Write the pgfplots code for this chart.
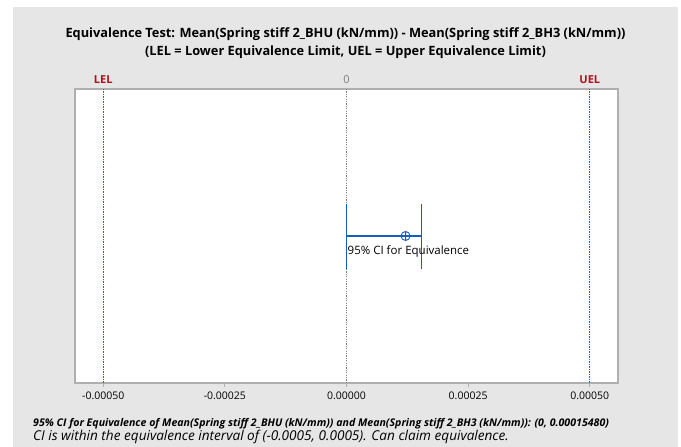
\documentclass[border=0pt]{standalone}
\usepackage{pgfplots}
\pgfplotsset{compat=1.18}
\usepackage{fontspec}
\setmainfont{Open Sans}
\definecolor{panelgray}{RGB}{230,230,230}
\definecolor{framegray}{RGB}{175,175,175}
\definecolor{lelred}{RGB}{170,20,30}
\definecolor{dotred}{RGB}{240,30,30}
\definecolor{ciblue}{RGB}{20,95,190}
\begin{document}
\begin{tikzpicture}[x=1pt,y=1pt]
\fill[white] (0,0) rectangle (681,447);
\fill[panelgray] (13,0) rectangle (678,440);
\node[font=\fontsize{12.8}{15}\selectfont\bfseries] at (345.5,413) {Equivalence Test: Mean(Spring stiff 2\_BHU (kN/mm)) - Mean(Spring stiff 2\_BH3 (kN/mm))};
\node[font=\fontsize{12.8}{15}\selectfont\bfseries] at (345.5,395) {(LEL = Lower Equivalence Limit, UEL = Upper Equivalence Limit)};
\node[anchor=west, inner sep=0pt, font=\fontsize{10.6}{12}\selectfont\bfseries\itshape] at (33,23) {95\% CI for Equivalence of Mean(Spring stiff 2\_BHU (kN/mm)) and Mean(Spring stiff 2\_BH3 (kN/mm)): (0, 0.00015480)};
\node[anchor=west, inner sep=0pt, font=\fontsize{13.6}{15}\selectfont\itshape] at (33,10.5) {CI is within the equivalence interval of (-0.0005, 0.0005). Can claim equivalence.};
\begin{axis}[
  at={(75pt,64pt)}, anchor=south west,
  scale only axis, width=543pt, height=294pt,
  xmin=-0.000558, xmax=0.000558, ymin=0, ymax=1,
  axis background/.style={fill=white},
  ytick=\empty,
  xtick={-0.0005,-0.00025,0,0.00025,0.0005},
  xticklabels={-0.00050,-0.00025,0.00000,0.00025,0.00050},
  scaled x ticks=false,
  tick align=outside, xtick pos=bottom,
  major tick length=4pt,
  tick style={framegray, line width=0.8pt},
  axis line style={framegray, line width=1.2pt},
  xticklabel style={font=\fontsize{10.5}{12}\selectfont, yshift=-1pt},
  clip=false,
]
\addplot[color=dotred, line width=1.2pt, dash pattern=on 1.5pt off 1pt] coordinates {(-0.0005,0) (-0.0005,1)};
\addplot[color=dotred, line width=1.2pt, dash pattern=on 1.5pt off 1pt] coordinates {(0.0005,0) (0.0005,1)};
\addplot[color=gray, line width=0.9pt, dash pattern=on 1.2pt off 1.2pt] coordinates {(0,0) (0,1)};
\addplot[color=ciblue, line width=1.2pt] coordinates {(0,0.5) (0.0001548,0.5)};
\addplot[color=ciblue, line width=1.2pt] coordinates {(0,0.388) (0,0.609)};
\addplot[color=ciblue, line width=1.2pt] coordinates {(0.0001548,0.388) (0.0001548,0.609)};
\addplot[color=ciblue, only marks, mark=oplus, mark size=4.5pt, mark options={line width=0.9pt, fill=white}] coordinates {(0.0001214,0.5)};
\node[anchor=north west, inner sep=0pt, font=\fontsize{11.5}{13}\selectfont] at (axis cs:0.000002,0.467) {95\% CI for Equivalence};
\node[anchor=south, text=lelred, font=\fontsize{11}{13}\selectfont\bfseries, inner sep=0pt] at (axis cs:-0.0005,1.018) {LEL};
\node[anchor=south, text=lelred, font=\fontsize{11}{13}\selectfont\bfseries, inner sep=0pt] at (axis cs:0.0005,1.018) {UEL};
\node[anchor=south, text=gray, font=\fontsize{11}{13}\selectfont, inner sep=0pt] at (axis cs:0,1.018) {0};
\end{axis}
\end{tikzpicture}
\end{document}
